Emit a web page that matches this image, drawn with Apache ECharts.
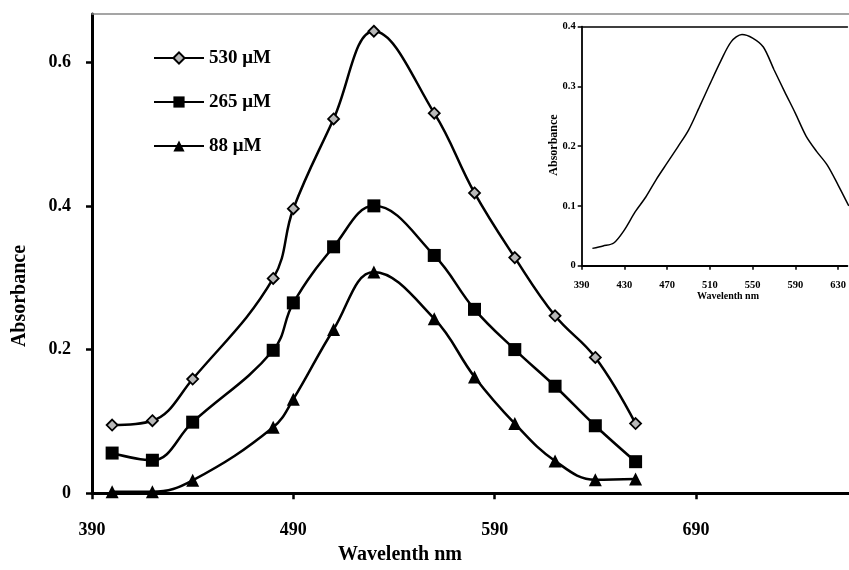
<!DOCTYPE html>
<html>
<head>
<meta charset="utf-8">
<title>Absorbance</title>
<script src="https://cdn.jsdelivr.net/npm/echarts@6/dist/echarts.min.js"></script>
<style>
    html, body { margin: 0; padding: 0; background: #fff; }
    #main { width: 849px; height: 570px; }
</style>
</head>
<body>
<div id="main"></div>
<script>
// 主图：三种浓度的吸收光谱
const wavelengths = [400, 420, 440, 480, 490, 510, 530, 560, 580, 600, 620, 640, 660]
const abs530 = [0.095, 0.101, 0.159, 0.299, 0.396, 0.521, 0.643, 0.529, 0.418, 0.328, 0.247, 0.189, 0.097]
const abs265 = [0.056, 0.046, 0.099, 0.199, 0.265, 0.343, 0.400, 0.331, 0.256, 0.200, 0.149, 0.094, 0.044]
const abs88 = [0.002, 0.002, 0.018, 0.092, 0.131, 0.228, 0.308, 0.243, 0.162, 0.097, 0.045, 0.019, 0.020]
const mainXTicks = [390, 490, 590, 690]
const mainYTicks = [0, 0.2, 0.4, 0.6]

// 小图
const insetWavelengths = [400, 410, 420, 430, 440, 450, 460, 470, 480, 490, 500, 510, 520, 530, 540, 550, 560, 570, 580, 590, 600, 610, 620, 630, 640]
const insetAbs = [0.029, 0.033, 0.038, 0.060, 0.090, 0.115, 0.145, 0.172, 0.199, 0.227, 0.265, 0.304, 0.342, 0.375, 0.387, 0.381, 0.366, 0.328, 0.291, 0.255, 0.217, 0.191, 0.168, 0.135, 0.100]
const insetXTicks = [390, 430, 470, 510, 550, 590, 630]
const insetYTicks = [0, 0.1, 0.2, 0.3, 0.4]

const names = ['530 μM', '265 μM', '88 μM']

const serif = 'Liberation Serif'
const zip = (xs, ys) => xs.map((x, i) => [x, ys[i]])

const mainSeries = (name, data, symbol, size, fill) => ({
    name: name,
    type: 'line',
    xAxisIndex: 0,
    yAxisIndex: 0,
    smooth: 0.4,
    symbol: symbol,
    symbolSize: size,
    showAllSymbol: true,
    lineStyle: { color: '#000', width: 2.5 },
    itemStyle: { color: fill, borderColor: '#000', borderWidth: symbol === 'diamond' ? 1.8 : 0 },
    data: zip(wavelengths, data),
    z: 3
})

const option = {
    animation: false,
    backgroundColor: '#fff',
    legend: {
        orient: 'vertical',
        left: 153,
        top: 48,
        padding: 0,
        itemWidth: 50,
        itemHeight: 14,
        itemGap: 24,
        data: names,
        textStyle: { fontFamily: serif, fontWeight: 'bold', fontSize: 19, color: '#000', lineHeight: 20 }
    },
    grid: [
        { left: 92, top: 14, right: 0, bottom: 76.7 },
        { left: 581.7, top: 26.7, right: 0, bottom: 304.3 }
    ],
    xAxis: [
        {
            gridIndex: 0,
            type: 'value',
            min: 390,
            max: 766,
            axisLine: { lineStyle: { color: '#000', width: 3 } },
            axisTick: { customValues: mainXTicks, length: 6, lineStyle: { color: '#000', width: 2.5 } },
            axisLabel: { customValues: mainXTicks, margin: 28, fontFamily: serif, fontWeight: 'bold', fontSize: 18, color: '#000' },
            splitLine: { show: false }
        },
        {
            gridIndex: 0,
            type: 'value',
            position: 'top',
            min: 390,
            max: 766,
            axisLine: { show: true, lineStyle: { color: '#888', width: 1.5 } },
            axisTick: { show: false },
            axisLabel: { show: false },
            splitLine: { show: false }
        },
        {
            gridIndex: 1,
            type: 'value',
            min: 390,
            max: 638.7,
            axisLine: { lineStyle: { color: '#000', width: 1.8 } },
            axisTick: { customValues: insetXTicks, length: 4, lineStyle: { color: '#000', width: 1.5 } },
            axisLabel: { customValues: insetXTicks, margin: 14, fontFamily: serif, fontWeight: 'bold', fontSize: 10.5, color: '#000' },
            splitLine: { show: false }
        },
        {
            gridIndex: 1,
            type: 'value',
            position: 'top',
            min: 390,
            max: 638.7,
            axisLine: { show: true, lineStyle: { color: '#000', width: 1.5 } },
            axisTick: { show: false },
            axisLabel: { show: false },
            splitLine: { show: false }
        }
    ],
    yAxis: [
        {
            gridIndex: 0,
            type: 'value',
            min: 0,
            max: 0.667,
            axisLine: { show: true, lineStyle: { color: '#000', width: 3 } },
            axisTick: { show: true, customValues: mainYTicks, length: 6, lineStyle: { color: '#000', width: 2.5 } },
            axisLabel: { customValues: mainYTicks, margin: 21, fontFamily: serif, fontWeight: 'bold', fontSize: 18, color: '#000' },
            splitLine: { show: false }
        },
        {
            gridIndex: 1,
            type: 'value',
            min: 0,
            max: 0.4,
            axisLine: { show: true, lineStyle: { color: '#000', width: 1.8 } },
            axisTick: { show: true, customValues: insetYTicks, length: 4, lineStyle: { color: '#000', width: 1.5 } },
            axisLabel: { customValues: insetYTicks, margin: 6, fontFamily: serif, fontWeight: 'bold', fontSize: 10.5, color: '#000' },
            splitLine: { show: false }
        }
    ],
    graphic: [
        {
            type: 'text', x: 20, y: 296, rotation: Math.PI / 2,
            style: { text: 'Absorbance', font: 'bold 20px "Liberation Serif"', fill: '#000', align: 'center', verticalAlign: 'middle' }
        },
        {
            type: 'text', x: 400, y: 555,
            style: { text: 'Wavelenth nm', font: 'bold 20px "Liberation Serif"', fill: '#000', align: 'center', verticalAlign: 'middle' }
        },
        {
            type: 'text', x: 554, y: 145, rotation: Math.PI / 2,
            style: { text: 'Absorbance', font: 'bold 12px "Liberation Serif"', fill: '#000', align: 'center', verticalAlign: 'middle' }
        },
        {
            type: 'text', x: 728, y: 296,
            style: { text: 'Wavelenth nm', font: 'bold 10px "Liberation Serif"', fill: '#000', align: 'center', verticalAlign: 'middle' }
        }
    ],
    series: [
        mainSeries(names[0], abs530, 'diamond', 11, '#b8b8b8'),
        mainSeries(names[1], abs265, 'rect', 13, '#000'),
        mainSeries(names[2], abs88, 'triangle', 13, '#000'),
        {
            type: 'line',
            xAxisIndex: 2,
            yAxisIndex: 1,
            smooth: 0.3,
            symbol: 'none',
            lineStyle: { color: '#000', width: 1.5 },
            data: zip(insetWavelengths, insetAbs)
        }
    ]
}

const myChart = echarts.init(document.getElementById('main'))
myChart.setOption(option)
</script>
</body>
</html>
